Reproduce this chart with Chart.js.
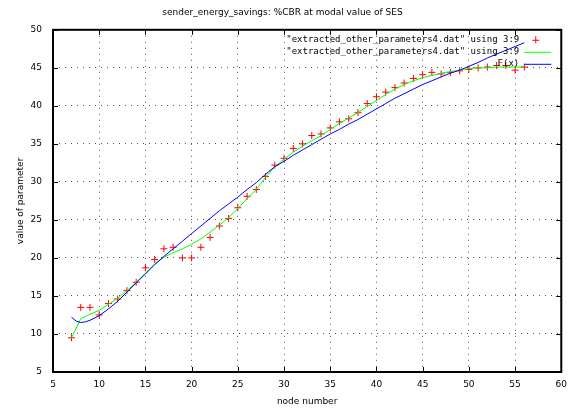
<!DOCTYPE html>
<html>
<head>
<meta charset="utf-8">
<script src="https://cdn.jsdelivr.net/npm/chart.js@4.4.0/dist/chart.umd.min.js"></script>
<style>
    html, body { margin: 0; padding: 0; background: #fff; }
</style>
</head>
<body>
<canvas id="chart" width="574" height="408"></canvas>
<script>
/* ------------------ DATA ------------------ */
const nodeNumbers = [7, 8, 9, 10, 11, 12, 13, 14, 15, 16, 17, 18, 19, 20, 21, 22, 23, 24, 25, 26,
    27, 28, 29, 30, 31, 32, 33, 34, 35, 36, 37, 38, 39, 40, 41, 42, 43, 44, 45, 46,
    47, 48, 49, 50, 51, 52, 53, 54, 55, 56];

// red crosses: column 9 of the data file
const measured = [9.5, 13.5, 13.5, 12.5, 14.0, 14.6, 15.7, 16.8, 18.7, 19.8, 21.2, 21.4, 20.0, 20.0, 21.4, 22.7, 24.2, 25.2, 26.6, 28.1,
    29.0, 30.7, 32.2, 33.1, 34.4, 35.0, 36.1, 36.3, 37.1, 37.9, 38.3, 39.1, 40.3, 41.2, 41.8, 42.4, 43.0, 43.6, 44.1, 44.4,
    44.2, 44.4, 44.6, 44.8, 45.0, 45.1, 45.3, 45.3, 44.7, 45.1];

// green: smoothed version of the same column
const smoothed = [9.5, 12.0, 12.6, 13.1, 13.9, 14.7, 15.7, 16.8, 18.0, 19.2, 20.1, 20.7, 21.2, 21.8, 22.5, 23.4, 24.3, 25.3, 26.5, 27.8,
    29.0, 30.6, 32.0, 33.0, 33.9, 34.7, 35.4, 36.1, 36.9, 37.7, 38.4, 39.1, 39.9, 40.7, 41.5, 42.2, 42.8, 43.3, 43.7, 44.0,
    44.3, 44.5, 44.7, 44.9, 45.0, 45.0, 45.1, 45.1, 45.1, 45.1];

// blue: fitted function F(x)
const fitX = [7, 7.5, 8, 8.5, 9, 10, 11, 12, 13, 14, 15, 16, 17, 18, 19, 20, 21, 22, 23, 24, 25, 26,
    27, 28, 29, 30, 31, 32, 33, 34, 35, 36, 37, 38, 39, 40, 41, 42, 43, 44, 45, 46,
    47, 48, 49, 50, 51, 52, 53, 54, 55, 56];
const fitY = [12.2, 11.7, 11.5, 11.6, 11.8, 12.4, 13.3, 14.3, 15.5, 16.7, 17.9, 19.1, 20.2, 21.2, 22.2, 23.2, 24.2, 25.2, 26.2, 27.1, 28.0, 29.0,
    29.9, 31.0, 32.0, 32.7, 33.5, 34.2, 34.9, 35.6, 36.3, 36.9, 37.6, 38.2, 38.9, 39.6, 40.3, 41.0, 41.6, 42.2, 42.8, 43.3,
    43.8, 44.3, 44.7, 45.2, 45.7, 46.3, 46.8, 47.3, 47.8, 48.3];

const xTicks = [5, 10, 15, 20, 25, 30, 35, 40, 45, 50, 55, 60];
const yTicks = [5, 10, 15, 20, 25, 30, 35, 40, 45, 50];

const seriesLabels = [
    '"extracted_other_parameters4.dat" using 3:9',
    '"extracted_other_parameters4.dat" using 3:9',
    'F(x)'
];

const FONT = '"DejaVu Sans", sans-serif';
const MONO = '"DejaVu Sans Mono", monospace';

function toPoints(xs, ys) {
    return xs.map((x, i) => ({ x: x, y: ys[i] }));
}

/* ------------------ FRAME + INWARD TICKS (gnuplot look) ------------------ */
const frame = {
    id: "frame",
    beforeDatasetsDraw(chart) {
        const { ctx, chartArea: a, scales: { x, y } } = chart;
        ctx.save();
        ctx.strokeStyle = "#000";
        ctx.lineWidth = 1;
        ctx.beginPath();
        xTicks.forEach(v => {
            const px = Math.round(x.getPixelForValue(v)) + 0.5;
            ctx.moveTo(px, a.bottom); ctx.lineTo(px, a.bottom - 5);
            ctx.moveTo(px, a.top); ctx.lineTo(px, a.top + 5);
        });
        yTicks.forEach(v => {
            const py = Math.round(y.getPixelForValue(v)) + 0.5;
            ctx.moveTo(a.left, py); ctx.lineTo(a.left + 5, py);
            ctx.moveTo(a.right, py); ctx.lineTo(a.right - 5, py);
        });
        ctx.stroke();
        ctx.lineWidth = 2;
        ctx.strokeRect(a.left, a.top, a.right - a.left, a.bottom - a.top);
        ctx.restore();
    }
};

/* ------------------ KEY (top right, text before sample) ------------------ */
const key = {
    id: "key",
    afterDatasetsDraw(chart) {
        const { ctx, chartArea: a } = chart;
        ctx.save();
        ctx.font = "9px " + MONO;
        ctx.textAlign = "right";
        ctx.textBaseline = "middle";
        chart.data.datasets.forEach((ds, i) => {
            const rowY = a.top + 10 + i * 12;
            ctx.fillStyle = "#000";
            ctx.fillText(seriesLabels[i], a.right - 42, rowY);
            ctx.strokeStyle = ds.borderColor;
            ctx.lineWidth = 1;
            ctx.beginPath();
            if (ds.showLine === false) {
                ctx.moveTo(a.right - 25.5, rowY - 3.5); ctx.lineTo(a.right - 25.5, rowY + 3.5);
                ctx.moveTo(a.right - 29, rowY + 0.5); ctx.lineTo(a.right - 22, rowY + 0.5);
            } else {
                ctx.moveTo(a.right - 37, rowY + 0.5); ctx.lineTo(a.right - 10, rowY + 0.5);
            }
            ctx.stroke();
        });
        ctx.restore();
    }
};

new Chart(document.getElementById("chart"), {
    type: "scatter",
    data: {
        datasets: [
            {
                label: seriesLabels[0],
                data: toPoints(nodeNumbers, measured),
                showLine: false,
                pointStyle: "cross",
                pointRadius: 3.5,
                borderColor: "#ff0000",
                backgroundColor: "#ff0000",
                pointBorderWidth: 1,
                order: 2
            },
            {
                label: seriesLabels[1],
                data: toPoints(nodeNumbers, smoothed),
                showLine: true,
                pointRadius: 0,
                borderColor: "#00ff00",
                borderWidth: 1,
                tension: 0,
                order: 1
            },
            {
                label: seriesLabels[2],
                data: toPoints(fitX, fitY),
                showLine: true,
                pointRadius: 0,
                borderColor: "#0000ff",
                borderWidth: 1,
                tension: 0,
                order: 0
            }
        ]
    },
    options: {
        responsive: false,
        animation: false,
        devicePixelRatio: 1,
        layout: { padding: { left: 0, right: 9, top: 0, bottom: 0 } },
        plugins: {
            legend: { display: false },
            tooltip: { enabled: false },
            title: {
                display: true,
                text: "sender_energy_savings: %CBR at modal value of SES",
                color: "#000",
                font: { family: FONT, size: 9, weight: "normal" },
                padding: { top: 7, bottom: 12 }
            }
        },
        scales: {
            x: {
                type: "linear",
                min: 5,
                max: 60,
                afterBuildTicks: s => { s.ticks = xTicks.map(v => ({ value: v })); },
                afterFit: s => { s.height = 36; },
                ticks: { color: "#000", font: { family: FONT, size: 9 }, padding: 7, maxRotation: 0 },
                grid: { color: "#555", drawTicks: false, lineWidth: 1 },
                border: { display: false, dash: [1, 5] },
                title: { display: true, text: "node number", color: "#000", font: { family: FONT, size: 9 }, padding: { top: 0, bottom: 1 } }
            },
            y: {
                type: "linear",
                min: 5,
                max: 50,
                afterBuildTicks: s => { s.ticks = yTicks.map(v => ({ value: v })); },
                afterFit: s => { s.width = 53; },
                ticks: { color: "#000", font: { family: FONT, size: 9 }, padding: 11 },
                grid: { color: "#555", drawTicks: false, lineWidth: 1 },
                border: { display: false, dash: [1, 5] },
                title: { display: true, text: "value of parameter", color: "#000", font: { family: FONT, size: 9 }, padding: { top: 15, bottom: 0 } }
            }
        }
    },
    plugins: [frame, key]
});
</script>
</body>
</html>
